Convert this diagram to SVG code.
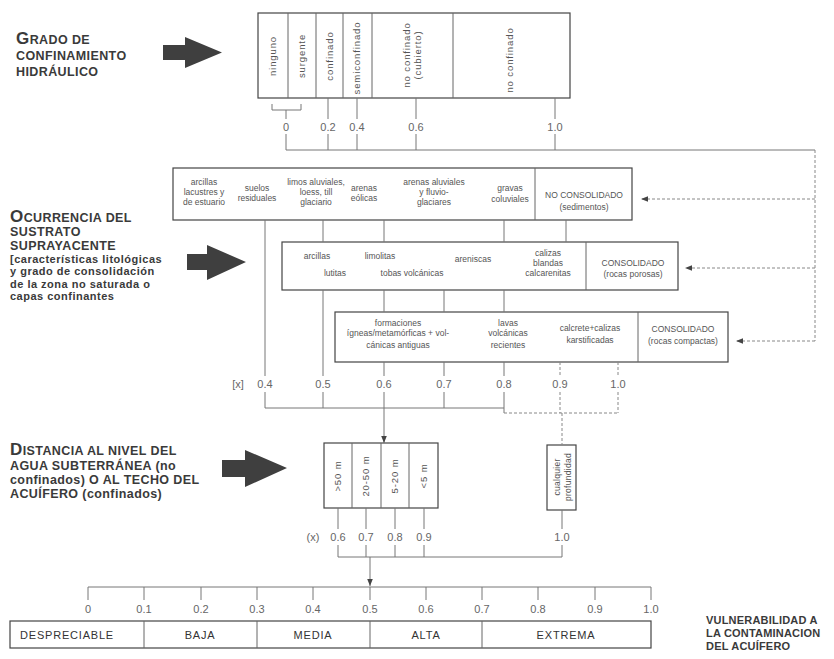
<svg xmlns="http://www.w3.org/2000/svg" width="834" height="659" viewBox="0 0 834 659">
<defs>
<style>
.title{font-family:"Liberation Sans",Arial,sans-serif;font-weight:bold;font-size:12.5px;fill:#3a3a3a;letter-spacing:0.4px}
.sub{font-size:11px;letter-spacing:0.5px}
.big{font-size:17px}
.cell{font-family:"Liberation Sans",Arial,sans-serif;font-size:8.5px;fill:#555;text-anchor:middle}
.vcell{font-family:"Liberation Sans",Arial,sans-serif;font-size:9.5px;fill:#555;text-anchor:middle;letter-spacing:0.9px}
.num{font-family:"Liberation Sans",Arial,sans-serif;font-size:11px;fill:#666;text-anchor:middle}
.cls{font-family:"Liberation Sans",Arial,sans-serif;font-size:11px;fill:#333;text-anchor:middle;letter-spacing:0.8px}
.box{fill:#fff;stroke:#444;stroke-width:1.2}
.div{stroke:#666;stroke-width:1}
.ln{fill:none;stroke:#777;stroke-width:1}
.dash{fill:none;stroke:#888;stroke-width:1;stroke-dasharray:3 2}
.arrow{fill:#3f3f3f}
</style>
<marker id="ah" viewBox="0 0 10 10" refX="10" refY="5" markerWidth="7" markerHeight="7" orient="auto"><path d="M0,1 L10,5 L0,9 z" fill="#444"/></marker>
</defs>
<rect width="834" height="659" fill="#fff"/>

<!-- Titles -->
<g id="title-grado">
<text class="title" x="16" y="44"><tspan class="big">G</tspan>RADO DE</text>
<text class="title" x="16" y="60">CONFINAMIENTO</text>
<text class="title" x="16" y="76">HIDRÁULICO</text>
<polygon class="arrow" points="163,45 185,45 185,37 222,52.5 185,68 185,60 163,60"/>
</g>
<g id="title-ocurrencia">
<text class="title" x="10" y="222"><tspan class="big">O</tspan>CURRENCIA DEL</text>
<text class="title" x="10" y="236">SUSTRATO</text>
<text class="title" x="10" y="249.5">SUPRAYACENTE</text>
<text class="title sub" x="10" y="262.5">[características litológicas</text>
<text class="title sub" x="10" y="275">y grado de consolidación</text>
<text class="title sub" x="10" y="287.5">de la zona no saturada o</text>
<text class="title sub" x="10" y="300">capas confinantes</text>
<polygon class="arrow" points="187,254 207,254 207,245 246,262 207,280 207,270 187,270"/>
</g>
<g id="title-distancia">
<text class="title" x="10" y="455"><tspan class="big">D</tspan>ISTANCIA AL NIVEL DEL</text>
<text class="title" x="10" y="470">AGUA SUBTERRÁNEA (no</text>
<text class="title" x="10" y="484">confinados) O AL TECHO DEL</text>
<text class="title" x="10" y="498">ACUÍFERO (confinados)</text>
<polygon class="arrow" points="222,460 245,460 245,450 287,468 245,487 245,477 222,477"/>
</g>

<!-- Top table -->
<g id="grado-table">
<rect class="box" x="258" y="13" width="312" height="85"/>
<path class="div" d="M288,13V98M316,13V98M343,13V98M372,13V98M453,13V98"/>
<text class="vcell" transform="translate(273,56) rotate(-90)" dy="3">ninguno</text>
<text class="vcell" transform="translate(302,56) rotate(-90)" dy="3">surgente</text>
<text class="vcell" transform="translate(330,56) rotate(-90)" dy="3">confinado</text>
<text class="vcell" transform="translate(357,58) rotate(-90)" dy="3">semiconfinado</text>
<text class="vcell" transform="translate(407,55) rotate(-90)" dy="3">no confinado</text>
<text class="vcell" transform="translate(418,55) rotate(-90)" dy="3">(cubierto)</text>
<text class="vcell" transform="translate(510,60) rotate(-90)" dy="3">no confinado</text>
</g>

<!-- Row 1 -->
<g id="row-no-consolidado">
<rect class="box" x="173" y="168" width="459" height="52"/>
<path class="div" d="M535,168V220"/>
<text class="cell" x="204" y="185">arcillas</text>
<text class="cell" x="204" y="195">lacustres y</text>
<text class="cell" x="204" y="205">de estuario</text>
<text class="cell" x="257" y="191">suelos</text>
<text class="cell" x="257" y="201">residuales</text>
<text class="cell" x="316" y="185">limos aluviales,</text>
<text class="cell" x="316" y="195">loess, till</text>
<text class="cell" x="316" y="205">glaciario</text>
<text class="cell" x="364" y="191">arenas</text>
<text class="cell" x="364" y="201">eólicas</text>
<text class="cell" x="434" y="185">arenas aluviales</text>
<text class="cell" x="434" y="195">y fluvio-</text>
<text class="cell" x="434" y="205">glaciares</text>
<text class="cell" x="510" y="191">gravas</text>
<text class="cell" x="510" y="202">coluviales</text>
<text class="cell" x="584" y="198">NO CONSOLIDADO</text>
<text class="cell" x="584" y="210">(sedimentos)</text>
</g>

<!-- Row 2 -->
<g id="row-consolidado-poroso">
<rect class="box" x="282" y="242" width="396" height="48"/>
<path class="div" d="M586,242V290"/>
<text class="cell" x="317" y="259">arcillas</text>
<text class="cell" x="335" y="276">lutitas</text>
<text class="cell" x="380" y="259">limolitas</text>
<text class="cell" x="412" y="276">tobas volcánicas</text>
<text class="cell" x="473" y="262">areniscas</text>
<text class="cell" x="548" y="256">calizas</text>
<text class="cell" x="548" y="266">blandas</text>
<text class="cell" x="548" y="276">calcarenitas</text>
<text class="cell" x="633" y="266">CONSOLIDADO</text>
<text class="cell" x="633" y="277">(rocas porosas)</text>
</g>

<!-- Row 3 -->
<g id="row-consolidado-compacto">
<rect class="box" x="335" y="312" width="393" height="50"/>
<path class="div" d="M638,312V362"/>
<text class="cell" x="398" y="326">formaciones</text>
<text class="cell" x="398" y="336">ígneas/metamórficas + vol-</text>
<text class="cell" x="398" y="348">cánicas antiguas</text>
<text class="cell" x="508" y="326">lavas</text>
<text class="cell" x="508" y="336">volcánicas</text>
<text class="cell" x="508" y="348">recientes</text>
<text class="cell" x="590" y="331">calcrete+calizas</text>
<text class="cell" x="590" y="343">karstificadas</text>
<text class="cell" x="683" y="332">CONSOLIDADO</text>
<text class="cell" x="683" y="344">(rocas compactas)</text>
</g>

<!-- Distance table -->
<g id="distancia-table">
<rect class="box" x="324" y="443" width="114" height="65"/>
<path class="div" d="M352,443V508M381,443V508"/>
<path class="div" d="M409,443V508" stroke="#999"/>
<text class="vcell" transform="translate(338,476) rotate(-90)" dy="3">&gt;50 m</text>
<text class="vcell" transform="translate(366,476) rotate(-90)" dy="3">20-50 m</text>
<text class="vcell" transform="translate(395,476) rotate(-90)" dy="3">5-20 m</text>
<text class="vcell" transform="translate(424,476) rotate(-90)" dy="3">&lt;5 m</text>
</g>
<g id="cualquier-box">
<rect class="box" x="547" y="445" width="29" height="65"/>
<text class="vcell" transform="translate(557,477) rotate(-90)" dy="3" style="font-size:8.5px;letter-spacing:0.3px">cualquier</text>
<text class="vcell" transform="translate(568,477) rotate(-90)" dy="3" style="font-size:8.5px;letter-spacing:0.3px">profundidad</text>
</g>

<!-- Bottom classes -->
<g id="vulnerabilidad-table">
<rect class="box" x="10" y="621" width="641" height="27"/>
<path class="div" d="M144,621V648M257,621V648M370,621V648M482,621V648"/>
<text class="cls" x="67" y="639">DESPRECIABLE</text>
<text class="cls" x="200" y="639">BAJA</text>
<text class="cls" x="313" y="639">MEDIA</text>
<text class="cls" x="426" y="639">ALTA</text>
<text class="cls" x="566" y="639">EXTREMA</text>
</g>
<g id="vulnerabilidad-title">
<text class="title" x="706" y="624" style="font-size:11px;letter-spacing:0.2px">VULNERABILIDAD A</text>
<text class="title" x="706" y="637" style="font-size:11px;letter-spacing:0.2px">LA CONTAMINACION</text>
<text class="title" x="706" y="650" style="font-size:11px;letter-spacing:0.2px">DEL ACUÍFERO</text>
</g>

<!-- Scale labels -->
<g id="scale-labels">
<text class="num" x="286" y="131">0</text>
<text class="num" x="328" y="131">0.2</text>
<text class="num" x="357" y="131">0.4</text>
<text class="num" x="416" y="131">0.6</text>
<text class="num" x="555" y="131">1.0</text>
<text class="num" x="238" y="388">[x]</text>
<text class="num" x="265" y="388">0.4</text>
<text class="num" x="323" y="388">0.5</text>
<text class="num" x="384" y="388">0.6</text>
<text class="num" x="444" y="388">0.7</text>
<text class="num" x="504" y="388">0.8</text>
<text class="num" x="560" y="388">0.9</text>
<text class="num" x="618" y="388">1.0</text>
<text class="num" x="313" y="541">(x)</text>
<text class="num" x="338" y="541">0.6</text>
<text class="num" x="366" y="541">0.7</text>
<text class="num" x="395" y="541">0.8</text>
<text class="num" x="424" y="541">0.9</text>
<text class="num" x="562" y="541">1.0</text>
<text class="num" x="88" y="613">0</text>
<text class="num" x="144" y="613">0.1</text>
<text class="num" x="201" y="613">0.2</text>
<text class="num" x="257" y="613">0.3</text>
<text class="num" x="313" y="613">0.4</text>
<text class="num" x="370" y="613">0.5</text>
<text class="num" x="426" y="613">0.6</text>
<text class="num" x="482" y="613">0.7</text>
<text class="num" x="538" y="613">0.8</text>
<text class="num" x="595" y="613">0.9</text>
<text class="num" x="651" y="613">1.0</text>
</g>

<!-- Connectors -->
<g id="connectors">
<path class="ln" d="M272,104V110H301V104"/>
<path class="ln" d="M286,110V119M286,134V150M328,98V119M328,134V150M357,98V119M357,134V150M416,98V119M416,134V150M555,98V119M555,134V150"/>
<path class="ln" d="M286,150H815"/>
<path class="dash" d="M815,150V341"/>
<path class="dash" d="M815,199H641" marker-end="url(#ah)"/>
<path class="dash" d="M815,268H685" marker-end="url(#ah)"/>
<path class="dash" d="M815,341H736" marker-end="url(#ah)"/>
<path class="ln" d="M265,220V376M265,392V408"/>
<path class="ln" d="M323,220V242M323,290V376M323,392V408"/>
<path class="ln" d="M384,220V242M384,290V312M384,362V376"/>
<path class="ln" d="M384,392V443" marker-end="url(#ah)"/>
<path class="ln" d="M444,290V312M444,362V376M444,392V408"/>
<path class="ln" d="M504,220V242M504,290V312M504,362V376M504,392V413"/>
<path class="ln" d="M566,220V242"/>
<path class="ln" d="M265,408H504"/>
<path class="dash" d="M560,362V376M560,392V413M618,362V376M618,392V413M504,413H618M562,413V445"/>
<path class="ln" d="M338,508V529M338,545V557M366,508V529M366,545V557M395,508V529M395,545V557M424,508V529M424,545V557M562,510V529M562,545V557"/>
<path class="ln" d="M338,557H562"/>
<path class="ln" d="M370,557V586" marker-end="url(#ah)"/>
<path class="ln" d="M88,587H651"/>
<path class="ln" d="M88,587V600M144,587V600M201,587V600M257,587V600M313,587V600M370,587V600M426,587V600M482,587V600M538,587V600M595,587V600M651,587V600"/>
</g>
</svg>
